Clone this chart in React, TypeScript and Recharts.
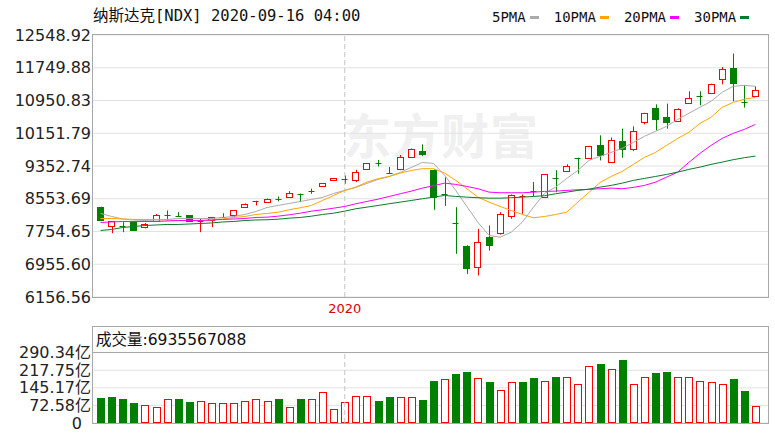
import { ComposedChart, Bar, Line, XAxis, YAxis, CartesianGrid, ReferenceLine } from 'recharts'

// weekly candles, NDX
const dates = [
  '2019-08-02', '2019-08-09', '2019-08-16', '2019-08-23', '2019-08-30', '2019-09-06', '2019-09-13', '2019-09-20', '2019-09-27', '2019-10-04',
  '2019-10-11', '2019-10-18', '2019-10-25', '2019-11-01', '2019-11-08', '2019-11-15', '2019-11-22', '2019-11-29', '2019-12-06', '2019-12-13',
  '2019-12-20', '2019-12-27', '2020-01-03', '2020-01-10', '2020-01-17', '2020-01-24', '2020-01-31', '2020-02-07', '2020-02-14', '2020-02-21',
  '2020-02-28', '2020-03-06', '2020-03-13', '2020-03-20', '2020-03-27', '2020-04-03', '2020-04-10', '2020-04-17', '2020-04-24', '2020-05-01',
  '2020-05-08', '2020-05-15', '2020-05-22', '2020-05-29', '2020-06-05', '2020-06-12', '2020-06-19', '2020-06-26', '2020-07-03', '2020-07-10',
  '2020-07-17', '2020-07-24', '2020-07-31', '2020-08-07', '2020-08-14', '2020-08-21', '2020-08-28', '2020-09-04', '2020-09-11', '2020-09-16',
]
const opens = [
  8348, 7877, 7885, 7999, 7860, 8006, 8140, 8124, 8146, 8010,
  8024, 8100, 8146, 8348, 8470, 8490, 8540, 8593, 8680, 8720,
  8854, 8994, 9020, 8994, 9270, 9420, 9170, 9270, 9565, 9730,
  9262, 8660, 7960, 7413, 6882, 7615, 7700, 8146, 8590, 8745,
  8593, 9070, 9228, 9550, 9531, 9856, 9450, 9961, 9775, 10425,
  10777, 10547, 10466, 10889, 11058, 11119, 11485, 11744, 10920, 11053,
]
const highs = [
  8360, 8010, 7982, 8005, 7960, 8180, 8268, 8226, 8150, 8065,
  8110, 8200, 8270, 8440, 8505, 8560, 8610, 8740, 8680, 8800,
  8940, 9060, 9120, 9260, 9425, 9500, 9330, 9620, 9780, 9880,
  9270, 9075, 8348, 7420, 7820, 7900, 8227, 8660, 8657, 8960,
  9160, 9250, 9395, 9555, 9845, 10100, 10050, 10264, 10320, 10650,
  10857, 10874, 10760, 11175, 11175, 11360, 11768, 12096, 11321, 11297,
]
const lows = [
  8010, 7713, 7738, 7770, 7830, 7990, 8024, 8110, 8000, 7738,
  7860, 8095, 8105, 8340, 8390, 8480, 8490, 8590, 8470, 8675,
  8850, 8990, 8920, 8960, 9265, 9340, 9160, 9250, 9560, 9600,
  8285, 8380, 7210, 6720, 6680, 7290, 7680, 8065, 8187, 8610,
  8580, 8715, 9225, 9164, 9530, 9489, 9430, 9555, 9716, 10369,
  10222, 10264, 10460, 10880, 10833, 11115, 11346, 10931, 10777, 11040,
]
const closes = [
  8024, 8006, 7870, 7779, 7943, 8146, 8150, 8115, 8010, 8015,
  8104, 8110, 8268, 8431, 8500, 8553, 8530, 8690, 8670, 8735,
  8935, 9050, 9025, 9197, 9417, 9410, 9180, 9565, 9760, 9650,
  8592, 8650, 7940, 6882, 7493, 7413, 8170, 8657, 8610, 8735,
  9150, 9060, 9343, 9540, 9831, 9611, 9980, 9775, 10205, 10645,
  10508, 10425, 10752, 11021, 11048, 11346, 11729, 11378, 10910, 11199,
]
const ma5 = [
  8195, 8121, 8060, 8036, 8023, 8036, 8048, 8072, 8072, 8072,
  8072, 8097, 8121, 8170, 8243, 8341, 8390, 8439, 8488, 8537,
  8586, 8683, 8757, 8830, 8928, 9025, 9098, 9196, 9318, 9440,
  9416, 9123, 8757, 8366, 7975, 7657, 7616, 7738, 7982, 8348,
  8683, 8837, 9050, 9245, 9490, 9587, 9685, 9783, 9929, 10076,
  10198, 10320, 10491, 10638, 10784, 10931, 11151, 11297, 11322, 11297,
]
const ma10 = [
  8072, 8072, 8060, 8048, 8048, 8048, 8036, 8023, 8023, 8023,
  8036, 8060, 8097, 8121, 8170, 8195, 8226, 8285, 8334, 8390,
  8512, 8634, 8757, 8837, 8960, 9042, 9098, 9179, 9245, 9287,
  9287, 9179, 9001, 8798, 8593, 8471, 8366, 8268, 8170, 8089,
  8121, 8170, 8226, 8471, 8710, 8950, 9098, 9221, 9392, 9563,
  9685, 9856, 10027, 10173, 10393, 10540, 10784, 10906, 10980, 11029,
]
const ma20 = [
  7975, 7987, 7999, 7999, 7999, 7999, 8011, 8023, 8023, 8023,
  8036, 8048, 8060, 8072, 8097, 8104, 8129, 8163, 8202, 8251,
  8285, 8324, 8366, 8432, 8488, 8544, 8610, 8676, 8740, 8813,
  8872, 8935, 8903, 8854, 8798, 8715, 8700, 8700, 8700, 8715,
  8732, 8740, 8757, 8774, 8781, 8798, 8813, 8798, 8830, 8879,
  8959, 9081, 9204, 9441, 9661, 9856, 10027, 10149, 10247, 10369,
]
const ma30 = [
  7779, 7804, 7853, 7877, 7901, 7914, 7926, 7926, 7938, 7950,
  7963, 7987, 7999, 8023, 8036, 8041, 8055, 8080, 8097, 8129,
  8170, 8202, 8251, 8310, 8349, 8390, 8432, 8471, 8512, 8554,
  8593, 8634, 8610, 8593, 8578, 8568, 8568, 8578, 8593, 8610,
  8627, 8676, 8715, 8757, 8788, 8837, 8879, 8935, 9001, 9050,
  9098, 9147, 9204, 9270, 9326, 9392, 9448, 9507, 9555, 9594,
]
// volume in 亿
const volumes = [
  102, 106, 100, 81, 74, 67, 99, 99, 88, 92,
  81, 81, 81, 92, 99, 92, 99, 67, 99, 99,
  129, 56, 88, 111, 111, 92, 106, 106, 106, 95,
  174, 180, 201, 212, 187, 169, 136, 168, 168, 187,
  173, 191, 191, 161, 235, 243, 223, 260, 161, 191,
  205, 212, 191, 191, 173, 168, 161, 180, 132, 69.36,
]
// 1 = red (close above previous close)
const volUp = [
  0, 0, 0, 0, 1, 1, 1, 0, 0, 1,
  1, 1, 1, 1, 1, 1, 0, 1, 0, 1,
  1, 1, 1, 1, 1, 0, 0, 1, 1, 0,
  0, 1, 0, 0, 1, 0, 1, 1, 0, 0,
  1, 0, 1, 1, 1, 0, 1, 0, 1, 1,
  0, 0, 1, 1, 1, 1, 1, 0, 0, 1,
]
const priceTicks = [6156.56, 6955.6, 7754.65, 8553.69, 9352.74, 10151.79, 10950.83, 11749.88, 12548.92]
const volTicks = [0, 72.58, 145.17, 217.75, 290.34]
const yearTick = '2020-01-03'

const RED = '#ff0000'
const GREEN = '#008000'
const BORDER = '#a8a8a8'
const GRID = '#e2e2e2'
const AXIS_FONT = "'DejaVu Sans', 'Noto Sans CJK SC', sans-serif"

const maLines = [
  { key: 'ma5', name: '5PMA', color: '#aaaaaa' },
  { key: 'ma10', name: '10PMA', color: '#ffa500' },
  { key: 'ma20', name: '20PMA', color: '#ff00ff' },
  { key: 'ma30', name: '30PMA', color: '#0b7a2c' },
]

const data = dates.map((date, i) => ({
  date,
  open: opens[i],
  high: highs[i],
  low: lows[i],
  close: closes[i],
  range: [lows[i], highs[i]],
  ma5: ma5[i],
  ma10: ma10[i],
  ma20: ma20[i],
  ma30: ma30[i],
  vol: volumes[i],
  up: volUp[i] === 1,
}))

function Candle(props: any) {
  const { x, y, width, height, payload } = props
  const { open, close, high, low } = payload
  const top = Math.min(y, y + height)
  const h = Math.abs(height)
  const span = high - low
  const toY = (v: number) => (span === 0 ? top : top + ((high - v) / span) * h)
  const up = close >= open
  const color = up ? RED : GREEN
  const cx = Math.round(x + width / 2) + 0.5
  const bTop = toY(Math.max(open, close))
  const bBot = toY(Math.min(open, close))
  const left = Math.round(x) + 0.5
  return (
    <g>
      <line x1={cx} x2={cx} y1={top} y2={top + h} stroke={color} />
      {bBot - bTop < 1.5 ? (
        <line x1={left} x2={left + width - 1} y1={Math.round(bTop) + 0.5} y2={Math.round(bTop) + 0.5} stroke={color} />
      ) : (
        <rect
          x={left}
          y={Math.round(bTop) + 0.5}
          width={width - 1}
          height={Math.round(bBot - bTop)}
          fill={up ? '#fff' : color}
          stroke={color}
        />
      )}
    </g>
  )
}

function VolBar(props: any) {
  const { x, y, width, height, payload } = props
  const color = payload.up ? RED : GREEN
  return (
    <rect
      x={Math.round(x) + 0.5}
      y={Math.round(y) + 0.5}
      width={width - 1}
      height={Math.max(Math.round(height) - 1, 1)}
      fill={payload.up ? '#fff' : color}
      stroke={color}
    />
  )
}

function VolTick(props: any) {
  const { x, y, payload } = props
  const v = payload.value
  return (
    <text x={v === 0 ? x - 9 : x} y={y} dy="0.35em" textAnchor="end" fontSize={16} fill="#222" fontFamily={AXIS_FONT}>
      {v === 0 ? '0' : `${v.toFixed(2)}亿`}
    </text>
  )
}

export default function App() {
  return (
    <div style={{ position: 'absolute', left: 0, top: 0, width: 775, height: 435, background: '#fff', overflow: 'hidden' }}>
      {/* watermark */}
      <div
        style={{
          position: 'absolute', left: 343, top: 103, fontSize: 48, fontWeight: 700, color: '#f0f0f0',
          fontFamily: "'Noto Sans CJK SC', sans-serif", lineHeight: '60px', letterSpacing: 1,
        }}
      >
        东方财富
      </div>

      <div
        style={{
          position: 'absolute', left: 93, top: 7, fontSize: 15.5, lineHeight: '18px', color: '#111',
          fontFamily: "'DejaVu Sans Mono', 'Noto Sans CJK SC', monospace", whiteSpace: 'nowrap',
        }}
      >
        纳斯达克[NDX] 2020-09-16 04:00
      </div>

      <div style={{ position: 'absolute', left: 492, top: 8, display: 'flex', alignItems: 'center', height: 18 }}>
        {maLines.map((m) => (
          <div key={m.key} style={{ display: 'flex', alignItems: 'center', marginRight: 15 }}>
            <span style={{ fontSize: 14, fontFamily: "'DejaVu Sans Mono', monospace", color: '#111' }}>{m.name}</span>
            <span style={{ display: 'inline-block', width: 9, height: 3, marginLeft: 4, background: m.color }} />
          </div>
        ))}
      </div>

      <div style={{ position: 'absolute', left: 0, top: 0 }}>
        <ComposedChart width={775} height={322} data={data} margin={{ top: 35, right: 7, left: 8, bottom: 0 }}>
          <CartesianGrid vertical={false} stroke={GRID} />
          <XAxis
            dataKey="date"
            ticks={[yearTick]}
            interval={0}
            tickFormatter={() => '2020'}
            axisLine={false}
            tickLine={false}
            tickSize={0}
            tickMargin={7}
            height={25}
            padding={{ left: 2, right: 7 }}
            tick={{ fontSize: 13, fill: '#e00000', fontFamily: AXIS_FONT }}
          />
          <YAxis
            type="number"
            domain={[6156.56, 12548.92]}
            ticks={priceTicks}
            interval={0}
            allowDataOverflow
            tickFormatter={(v: number) => v.toFixed(2)}
            axisLine={false}
            tickLine={false}
            tickSize={0}
            tickMargin={2}
            width={85}
            tick={{ fontSize: 16, fill: '#222', fontFamily: AXIS_FONT }}
          />
          <ReferenceLine x={yearTick} stroke="#c4c4c4" strokeDasharray="5 3" />
          <Bar dataKey="range" barSize={7} shape={<Candle />} isAnimationActive={false} />
          {maLines.map((m) => (
            <Line
              key={m.key}
              dataKey={m.key}
              type="linear"
              stroke={m.color}
              strokeWidth={1}
              dot={false}
              activeDot={false}
              isAnimationActive={false}
            />
          ))}
        </ComposedChart>
      </div>

      <div style={{ position: 'absolute', left: 0, top: 322 }}>
        <ComposedChart width={775} height={113} data={data} margin={{ top: 30.7, right: 7, left: 8, bottom: 12 }}>
          <CartesianGrid vertical={false} stroke={GRID} />
          <XAxis dataKey="date" hide padding={{ left: 2, right: 7 }} />
          <YAxis
            type="number"
            domain={[0, 290.34]}
            ticks={volTicks}
            interval={0}
            axisLine={false}
            tickLine={false}
            tickSize={0}
            tickMargin={2}
            width={85}
            tick={<VolTick />}
          />
          <ReferenceLine x={yearTick} stroke="#c4c4c4" strokeDasharray="5 3" />
          <Bar dataKey="vol" barSize={8} shape={<VolBar />} isAnimationActive={false} />
        </ComposedChart>
      </div>

      {/* panel frames */}
      <div style={{ position: 'absolute', left: 92, top: 34, width: 675, height: 262, border: `1px solid ${BORDER}`, pointerEvents: 'none' }} />
      <div style={{ position: 'absolute', left: 92, top: 326, width: 675, height: 96, border: `1px solid ${BORDER}`, pointerEvents: 'none' }} />
      <div style={{ position: 'absolute', left: 93, top: 352, width: 675, height: 1, background: BORDER }} />

      <div
        style={{
          position: 'absolute', left: 96, top: 331, fontSize: 15.5, lineHeight: '19px', color: '#111',
          fontFamily: AXIS_FONT, whiteSpace: 'nowrap',
        }}
      >
        成交量:6935567088
      </div>
    </div>
  )
}
